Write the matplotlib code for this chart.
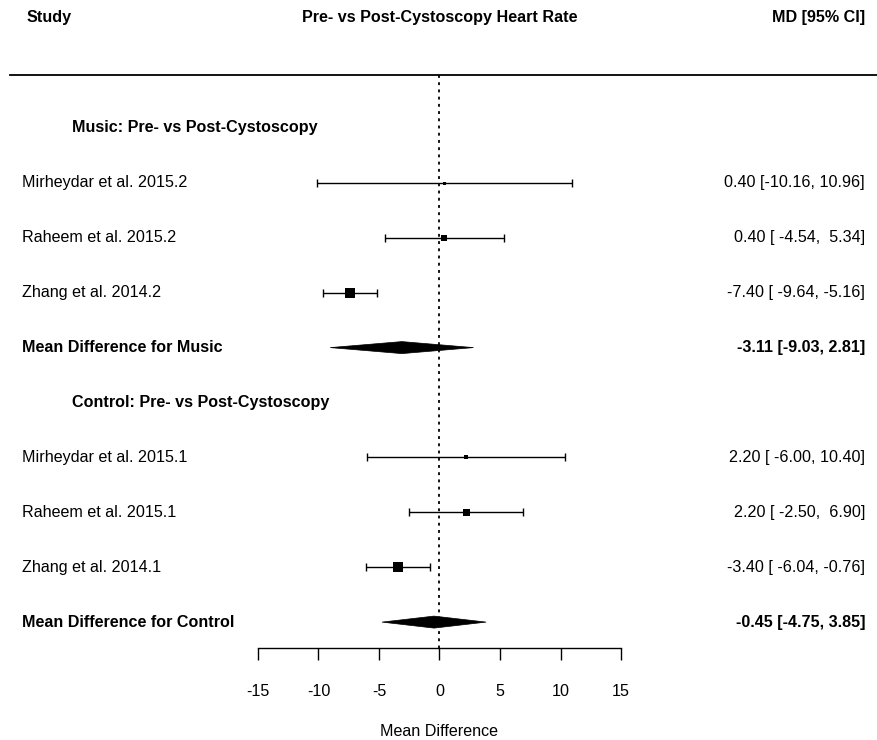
import matplotlib
matplotlib.use("Agg")
import matplotlib.pyplot as plt
from matplotlib.patches import Polygon

plt.rcParams['font.family'] = ['Liberation Sans', 'DejaVu Sans']

# ---------------- data ----------------
title = "Pre- vs Post-Cystoscopy Heart Rate"
group_names = ["Music: Pre- vs Post-Cystoscopy", "Control: Pre- vs Post-Cystoscopy"]
summary_names = ["Mean Difference for Music", "Mean Difference for Control"]

music_studies = ["Mirheydar et al. 2015.2", "Raheem et al. 2015.2", "Zhang et al. 2014.2"]
music_md = [0.40, 0.40, -7.40]
music_lo = [-10.16, -4.54, -9.64]
music_hi = [10.96, 5.34, -5.16]
music_weight = [15, 34, 51]

control_studies = ["Mirheydar et al. 2015.1", "Raheem et al. 2015.1", "Zhang et al. 2014.1"]
control_md = [2.20, 2.20, -3.40]
control_lo = [-6.00, -2.50, -6.04]
control_hi = [10.40, 6.90, -0.76]
control_weight = [19, 35, 46]

summary_md = [-3.11, -0.45]
summary_lo = [-9.03, -4.75]
summary_hi = [2.81, 3.85]

xticks = [-15, -10, -5, 0, 5, 10, 15]

# ---------------- layout ----------------
W, H, DPI = 877, 740, 100
fig = plt.figure(figsize=(W / DPI, H / DPI), dpi=DPI)
ax = fig.add_axes([0, 0, 1, 1])

px_lo, px_hi = 258.0, 621.0           # pixel positions of -15 and 15
ppu = (px_hi - px_lo) / 30.0
ax.set_xlim(-15 - px_lo / ppu, 15 + (W - px_hi) / ppu)
row_h = 54.9
row0_px = 128.0
ax.set_ylim((H - row0_px) / row_h, -row0_px / row_h)

FS = 11.6
x_left = -15 - (px_lo - 22) / ppu
x_group = -15 - (px_lo - 72) / ppu
x_header = -15 - (px_lo - 27) / ppu
x_right = 15 + (865 - px_hi) / ppu

y_header = (18 - row0_px) / row_h
y_hline = (75 - row0_px) / row_h
y_axis = (648 - row0_px) / row_h
y_xlabel = (731 - row0_px) / row_h

def fmt_study(md, lo, hi):
    return f"{md:.2f} [{lo:6.2f}, {hi:5.2f}]"

def fmt_sum(md, lo, hi):
    return f"{md:.2f} [{lo:.2f}, {hi:.2f}]"

# header
ax.text(x_header, y_header, "Study", fontsize=FS, fontweight='bold', ha='left', va='center')
ax.text(0, y_header, title, fontsize=FS, fontweight='bold', ha='center', va='center')
ax.text(x_right, y_header, "MD [95% CI]", fontsize=FS, fontweight='bold', ha='right', va='center')
ax.plot([-15 - (px_lo - 10) / ppu, ax.get_xlim()[1]], [y_hline, y_hline], color='black', lw=1.3)

# reference line
ax.plot([0, 0], [y_hline, y_axis], color='black', lw=1.3, linestyle=(0, (1.6, 2.4)))

groups = [
    (music_studies, music_md, music_lo, music_hi, music_weight),
    (control_studies, control_md, control_lo, control_hi, control_weight),
]

row = 0
for g, (names, md, lo, hi, wt) in enumerate(groups):
    ax.text(x_group, row, group_names[g], fontsize=FS, fontweight='bold', ha='left', va='center')
    row += 1
    for i in range(len(names)):
        ax.text(x_left, row, names[i], fontsize=FS, ha='left', va='center')
        ax.errorbar(md[i], row, xerr=[[md[i] - lo[i]], [hi[i] - md[i]]], fmt='none',
                    ecolor='black', elinewidth=1.0, capsize=2.6, capthick=1.0)
        side_px = 0.2 * wt[i]
        ax.plot(md[i], row, marker='s', color='black', markersize=side_px * 72 / DPI,
                markeredgewidth=0)
        ax.text(x_right, row, fmt_study(md[i], lo[i], hi[i]), fontsize=FS, ha='right', va='center')
        row += 1
    # summary diamond
    hh = 6.0 / row_h
    poly = Polygon([(summary_lo[g], row), (summary_md[g], row - hh), (summary_hi[g], row),
                    (summary_md[g], row + hh)], closed=True, facecolor='black', edgecolor='black', lw=0.5)
    ax.add_patch(poly)
    ax.text(x_left, row, summary_names[g], fontsize=FS, fontweight='bold', ha='left', va='center')
    ax.text(x_right, row, fmt_sum(summary_md[g], summary_lo[g], summary_hi[g]), fontsize=FS,
            fontweight='bold', ha='right', va='center')
    row += 1

# x axis
for s in ['top', 'left', 'right']:
    ax.spines[s].set_visible(False)
ax.spines['bottom'].set_position(('data', y_axis))
ax.spines['bottom'].set_bounds(-15, 15)
ax.spines['bottom'].set_linewidth(1.0)
ax.set_xticks(xticks)
ax.set_xticklabels([str(t) for t in xticks])
ax.tick_params(axis='x', direction='out', length=12 * 72 / DPI, width=1.0, pad=17.5, labelsize=FS)
ax.set_yticks([])
ax.text(0, y_xlabel, "Mean Difference", fontsize=FS, ha='center', va='center')

fig.savefig("out.png", dpi=DPI)
